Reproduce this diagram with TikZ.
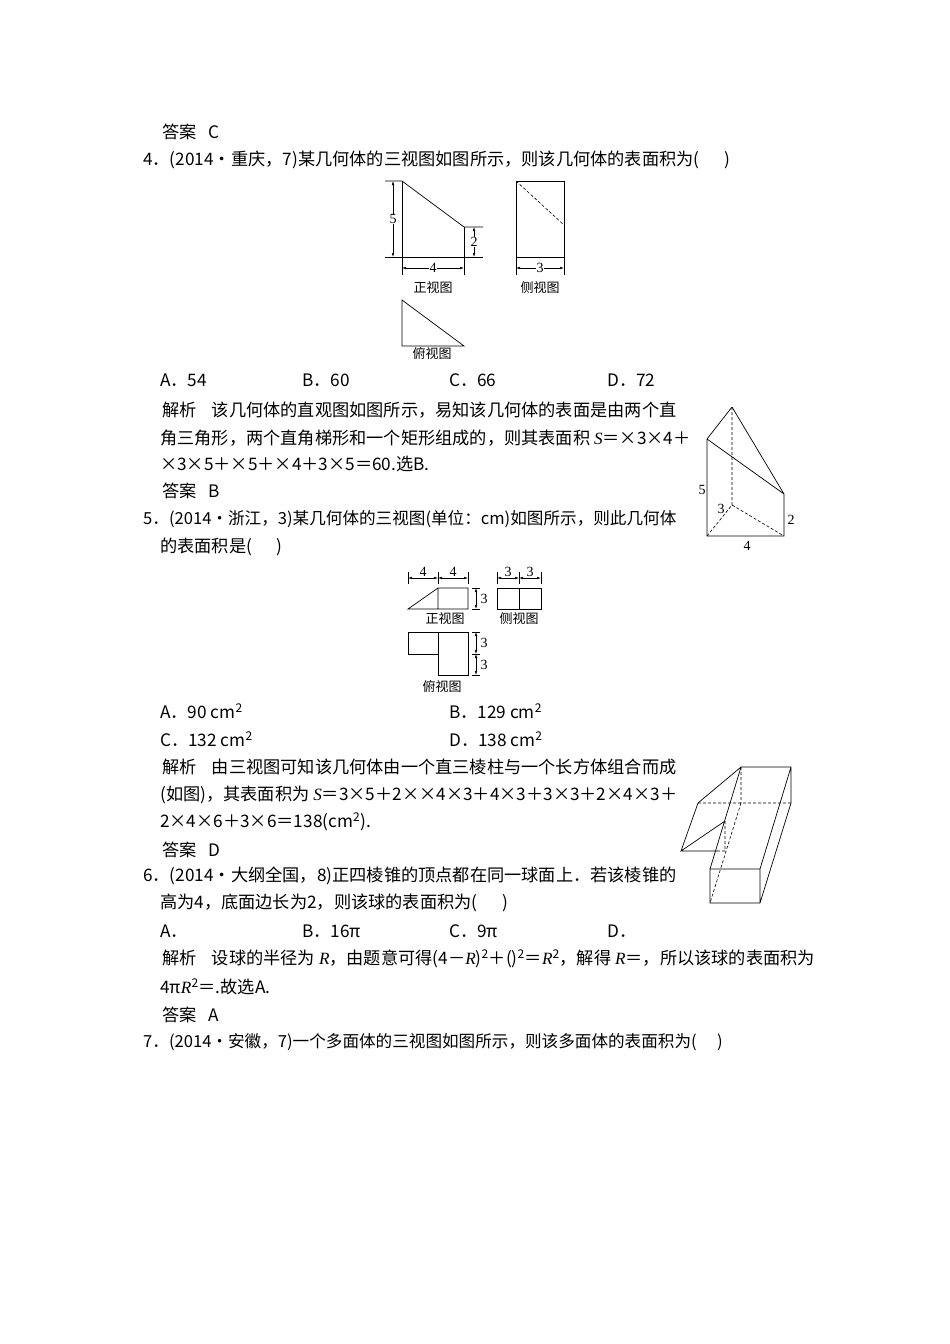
\documentclass[tikz,border=0pt]{standalone}
\usepackage{fontspec}
\setmainfont{Noto Sans CJK SC}
\newfontfamily\lat{Liberation Serif}
\usetikzlibrary{arrows.meta}
\newcommand{\vi}[1]{{\lat\itshape #1}}
\begin{document}
\begin{tikzpicture}[x=1pt,y=-1pt,
 tx/.style={anchor=west,inner sep=0pt,font=\fontsize{17.2}{18}\selectfont},
 sm/.style={inner sep=0.5pt,font=\lat\fontsize{14}{14}\selectfont},
 lab/.style={inner sep=0pt,font=\fontsize{13}{13}\selectfont},
 ln/.style={line width=0.7pt},
 dm/.style={line width=0.5pt,{Latex[length=4pt,width=2.5pt]}-{Latex[length=4pt,width=2.5pt]}},
 hid/.style={line width=0.6pt,dash pattern=on 3pt off 2pt}]
\useasboundingbox (0,0) rectangle (950,1344);
\fill[white] (0,0) rectangle (950,1344);
% text
\node[tx] (t1) at (162,132) {答案\ \ \ C};
\node[tx] (t2) at (143,160) {4．(2014·重庆，7)某几何体的三视图如图所示，则该几何体的表面积为(\quad\ \ )};
\node[tx] (a1) at (160,380) {A．54};
\node[tx] (b1) at (302,380) {B．60};
\node[tx] (c1) at (449,380) {C．66};
\node[tx] (d1) at (607,380) {D．72};
\node[tx] (t3) at (162,410) {解析\ \ \ \ 该几何体的直观图如图所示，易知该几何体的表面是由两个直};
\node[tx] (t4) at (160,438) {角三角形，两个直角梯形和一个矩形组成的，则其表面积 \vi{S}＝×3×4＋};
\node[tx] (t5) at (160,464) {×3×5＋×5＋×4＋3×5＝60.选B.};
\node[tx] (t6) at (162,491) {答案\ \ \ B};
\node[tx,font=\fontsize{16.6}{18}\selectfont] (t7) at (143,519) {5．(2014·浙江，3)某几何体的三视图(单位：cm)如图所示，则此几何体};
\node[tx] (t8) at (160,547) {的表面积是(\quad\ \ )};
\node[tx] (a2) at (160,711) {A．90\ cm\textsuperscript{2}};
\node[tx] (b2) at (449,711) {B．129\ cm\textsuperscript{2}};
\node[tx] (c2) at (160,739) {C．132\ cm\textsuperscript{2}};
\node[tx] (d2) at (449,739) {D．138\ cm\textsuperscript{2}};
\node[tx] (t9) at (162,767) {解析\ \ \ \ 由三视图可知该几何体由一个直三棱柱与一个长方体组合而成};
\node[tx] (t10) at (160,795) {(如图)，其表面积为 \vi{S}＝3×5＋2××4×3＋4×3＋3×3＋2×4×3＋};
\node[tx] (t11) at (160,822) {2×4×6＋3×6＝138(cm\textsuperscript{2}).};
\node[tx] (t12) at (162,850) {答案\ \ \ D};
\node[tx] (t13) at (143,876) {6．(2014·大纲全国，8)正四棱锥的顶点都在同一球面上．若该棱锥的};
\node[tx] (t14) at (160,903) {高为4，底面边长为2，则该球的表面积为(\quad\ \ )};
\node[tx] (a3) at (160,931) {A．};
\node[tx] (b3) at (302,931) {B．16π};
\node[tx] (c3) at (449,931) {C．9π};
\node[tx] (d3) at (607,931) {D．};
\node[tx] (t15) at (162,959) {解析\ \ \ \ 设球的半径为 \vi{R}，由题意可得(4－\vi{R})\textsuperscript{2}＋()\textsuperscript{2}＝\vi{R}\textsuperscript{2}，解得 \vi{R}＝，所以该球的表面积为};
\node[tx] (t16) at (160,987) {4π\vi{R}\textsuperscript{2}＝.故选A.};
\node[tx] (t17) at (162,1015) {答案\ \ \ A};
\node[tx,font=\fontsize{16.6}{18}\selectfont] (t18) at (143,1042) {7．(2014·安徽，7)一个多面体的三视图如图所示，则该多面体的表面积为(\quad\ )};
% figure 1
\draw[ln] (385,181) -- (402,181) -- (464,227) -- (483,227);
\draw[ln] (402,181) -- (402,275);
\draw[ln] (464,227) -- (464,275);
\draw[ln] (385,257) -- (483,257);
\draw[dm] (393,181) -- (393,257);
\node[sm,fill=white] (f5) at (393,219) {5};
\draw[dm] (474,227) -- (474,257);
\node[sm,fill=white] (f2) at (474,242) {2};
\draw[dm] (402,268) -- (464,268);
\node[sm,fill=white] (f4) at (433,268) {4};
\node[lab] (z1) at (433,288) {正视图};
\draw[ln] (516,181) rectangle (564,257);
\draw[hid] (516,181) -- (564,225);
\draw[ln] (516,257) -- (516,275) (564,257) -- (564,275);
\draw[dm] (516,268) -- (564,268);
\node[sm,fill=white] (f3) at (540,268) {3};
\node[lab] (c1l) at (540,288) {侧视图};
\draw[ln] (402,300) -- (402,346) -- (464,346) -- cycle;
\node[lab] (fu1) at (432,354) {俯视图};
% figure 2
\coordinate (ap) at (732,407); \coordinate (tl) at (707,439);
\coordinate (bl) at (707,536); \coordinate (br) at (784,536);
\coordinate (rt) at (784,494); \coordinate (bb) at (732,505);
\draw[ln] (ap) -- (tl) -- (bl) -- (br) -- (rt) -- (ap) (tl) -- (rt);
\draw[hid] (ap) -- (bb) (bl) -- (bb) -- (br);
\node[sm] (g5) at (702,490) {5};
\node[sm] (g3) at (721,509) {3};
\node[sm] (g2) at (791,520) {2};
\node[sm] (g4) at (747,546) {4};
% figure 3
\draw[ln] (408,572) -- (408,584) (438,572) -- (438,584) (468,572) -- (468,584);
\draw[dm] (408,578) -- (438,578);
\draw[dm] (438,578) -- (468,578);
\node[sm,fill=white] (h41) at (423,572) {4};
\node[sm,fill=white] (h42) at (453,572) {4};
\draw[ln] (408,609) -- (438,588) -- (468,588) -- (468,609) -- cycle (438,588) -- (438,609);
\draw[ln] (472,588) -- (480,588) (472,609) -- (480,609);
\draw[dm] (476,588) -- (476,609);
\node[sm] (h31) at (484,599) {3};
\node[lab] (z2) at (445,619) {正视图};
\draw[ln] (497,572) -- (497,584) (519,572) -- (519,584) (541,572) -- (541,584);
\draw[dm] (497,578) -- (519,578);
\draw[dm] (519,578) -- (541,578);
\node[sm,fill=white] (h32) at (508,572) {3};
\node[sm,fill=white] (h33) at (530,572) {3};
\draw[ln] (497,588) rectangle (541,609) (519,588) -- (519,609);
\node[lab] (c2l) at (519,619) {侧视图};
\draw[ln] (408,632) rectangle (438,654) (438,632) rectangle (468,675);
\draw[ln] (472,632) -- (480,632) (472,654) -- (480,654) (472,675) -- (480,675);
\draw[dm] (476,632) -- (476,654);
\draw[dm] (476,654) -- (476,675);
\node[sm] (h34) at (484,643) {3};
\node[sm] (h35) at (484,665) {3};
\node[lab] (fu2) at (442,687) {俯视图};
% figure 4
\coordinate (A) at (741,767); \coordinate (B) at (791,767);
\coordinate (C) at (791,803); \coordinate (Ap) at (741,803);
\coordinate (F1) at (710,869); \coordinate (F2) at (760,869);
\coordinate (D) at (760,903); \coordinate (E) at (710,903);
\coordinate (P) at (698,803); \coordinate (Q) at (681,851);
\coordinate (S) at (725,821); \coordinate (R) at (725,851);
\coordinate (Rv) at (717,851);
\draw[ln] (A) -- (B) -- (C) -- (D) -- (E) -- (F1) -- (F2) -- (D) (F2) -- (B);
\draw[ln] (A) -- (F1) (A) -- (P) -- (Q) -- (S) (Q) -- (Rv);
\draw[hid] (A) -- (Ap) (P) -- (C) (Ap) -- (E) (S) -- (R) (Rv) -- (R);
\end{tikzpicture}
\end{document}
